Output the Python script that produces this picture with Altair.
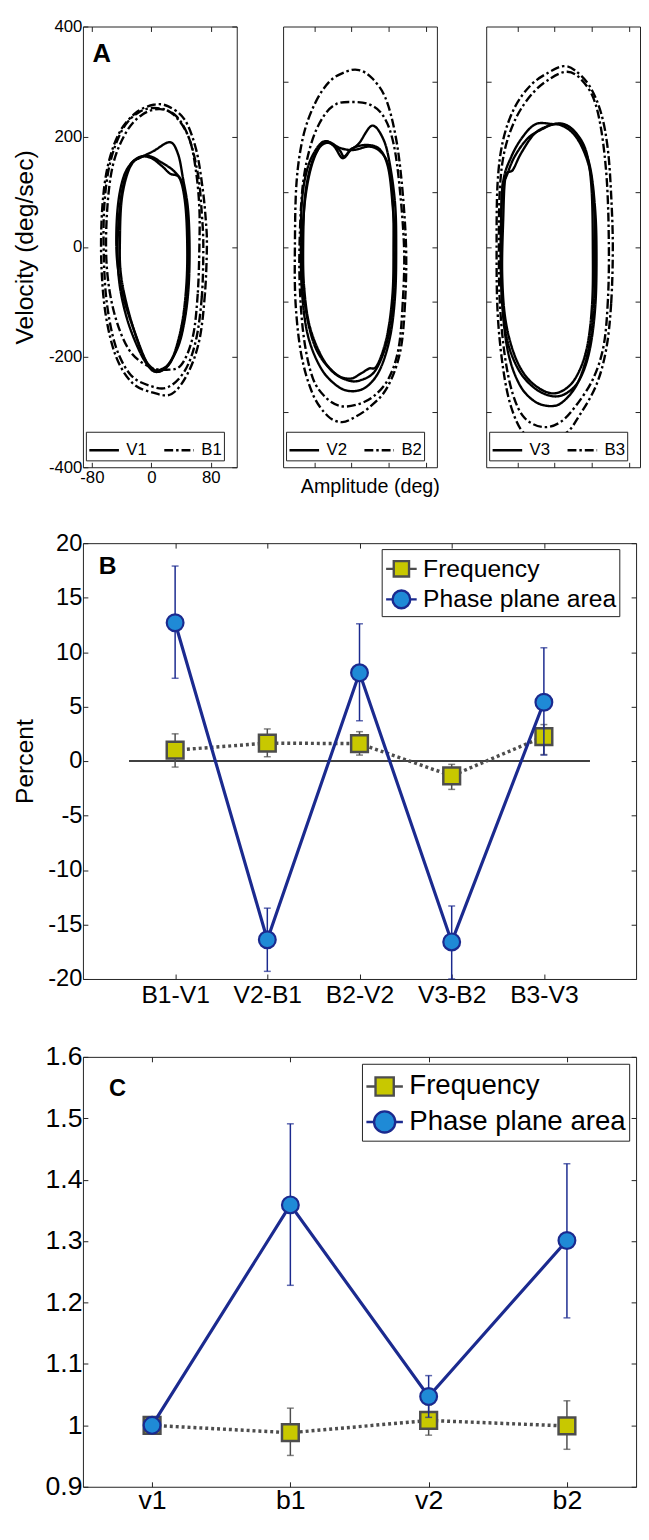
import json
import altair as alt
import pandas as pd

REG = "'Liberation Sans', Arial, Helvetica, sans-serif"

# ---------------- Panel A: phase-plane loops (amplitude deg, velocity deg/sec) ----------------
# subplot 1
v1a_x = [51.5, 50.2, 44.9, 36.1, 20.7, 7.5, -3.5, -16.7, -32.1, -42.2, -45.3, -44.0, -38.7, -27.7, -14.5, 3.1, 25.1, 36.1, 42.7, 49.3]
v1a_y = [0, -73, -133, -181, -217, -226, -217, -187, -133, -73, -14, 46, 106, 150, 162, 174, 190, 168, 124, 70]
v1b_x = [48.4, 47.0, 40.5, 27.3, 11.9, 0.9, -12.3, -29.9, -40.9, -42.2, -39.6, -29.9, -16.7, -1.3, 14.1, 25.1, 38.3, 45.8]
v1b_y = [0, -73, -145, -205, -223, -220, -193, -121, -50, 16, 88, 141, 162, 162, 147, 133, 124, 76]
v1c_x = [50.2, 48.4, 40.5, 25.1, 7.5, -5.7, -23.3, -38.7, -46.6, -45.3, -36.5, -21.1, -3.5, 14.1, 31.7, 42.7, 48.4]
v1c_y = [0, -85, -157, -211, -227, -211, -151, -85, -14, 70, 130, 159, 165, 153, 136, 112, 58]
b1a_x = [74.8, 72.2, 64.7, 49.3, 27.3, 0.9, -25.5, -47.5, -61.6, -67.3, -66.0, -58.5, -43.1, -21.1, 3.1, 22.9, 44.9, 60.3, 69.1, 73.5]
b1a_y = [0, -85, -169, -229, -267, -264, -247, -199, -121, -26, 70, 147, 207, 243, 258, 255, 231, 177, 106, 46]
b1b_x = [64.7, 62.5, 55.9, 40.5, 20.7, -3.5, -29.9, -49.7, -59.8, -59.8, -51.9, -34.3, -12.3, 11.9, 33.9, 51.5, 60.3, 64.7]
b1b_y = [0, -85, -163, -214, -223, -217, -187, -121, -38, 58, 147, 207, 240, 250, 237, 195, 136, 70]
b1c_x = [70, 68, 60, 45, 22, -2, -28, -48, -60, -64, -63, -55, -38, -16, 8, 30, 50, 63, 68]
b1c_y = [0, -90, -170, -225, -255, -252, -232, -180, -100, -10, 80, 155, 215, 245, 252, 240, 200, 130, 60]

# subplot 2
v2a_x = [60.2, 58.9, 52.2, 38.9, 21.2, 1.3, -18.6, -40.7, -58.4, -66.4, -68.1, -66.4, -58.4, -45.1, -34.1, -23.0, -11.9, -0.9, 10.2, 27.9, 43.4, 52.2, 58.9]
v2a_y = [0, -85, -162, -221, -253, -262, -253, -221, -162, -85, 0, 87, 146, 182, 192, 182, 161, 176, 188, 220, 194, 146, 75]
v2b_x = [56.6, 55.3, 47.8, 34.5, 23.5, 12.4, -0.9, -18.6, -38.5, -56.2, -63.7, -65.0, -62.8, -54.9, -42.9, -31.9, -14.2, 3.5, 23.5, 38.9, 50.0, 55.8]
v2b_y = [0, -85, -162, -215, -221, -230, -239, -233, -203, -144, -73, 0, 87, 146, 182, 191, 179, 176, 182, 173, 146, 81]
v2c_x = [58.9, 56.6, 48.7, 32.3, 12.4, -5.3, -27.4, -49.6, -62.8, -66.4, -63.7, -56.2, -45.1, -31.9, -16.4, -9.7, 1.3, 21.2, 38.9, 50.0, 55.8]
v2c_y = [0, -96, -168, -224, -242, -242, -224, -179, -102, -14, 69, 134, 176, 189, 176, 164, 179, 185, 176, 140, 69]
b2a_x = [73.5, 72.1, 65.5, 47.8, 23.5, -0.9, -14.2, -31.9, -51.8, -67.3, -75.2, -76.1, -73.9, -65.0, -49.6, -29.6, -7.5, 10.2, 27.9, 45.6, 58.9, 67.7]
b2a_y = [0, -102, -191, -256, -292, -313, -318, -307, -268, -197, -102, 0, 117, 200, 259, 300, 318, 321, 306, 271, 205, 117]
b2b_x = [70.8, 69.0, 63.3, 50.0, 30.1, 8.0, -14.2, -34.1, -51.8, -63.7, -69.5, -69.5, -65.0, -54.0, -38.5, -20.8, 1.3, 23.5, 41.2, 54.4, 63.3]
b2b_y = [0, -102, -185, -239, -271, -286, -289, -274, -239, -168, -73, 22, 117, 188, 235, 259, 263, 259, 241, 200, 128]

# subplot 3
v3a_x = [56.4, 55.1, 47.6, 34.4, 16.7, -3.1, -27.3, -49.3, -64.8, -71.4, -72.2, -69.2, -58.1, -42.7, -25.1, -3.1, 16.7, 34.4, 47.6, 54.2]
v3a_y = [0, -102, -185, -239, -265, -271, -256, -221, -162, -73, 22, 117, 164, 200, 223, 223, 220, 194, 146, 75]
v3b_x = [54.2, 53.3, 46.7, 32.2, 12.3, -5.3, -27.3, -47.1, -62.6, -70.5, -72.2, -70.5, -64.8, -53.7, -36.1, -16.3, 1.3, 21.1, 36.6, 48.5, 53.3]
v3b_y = [0, -96, -179, -244, -280, -289, -280, -250, -191, -102, 0, 105, 128, 164, 197, 214, 223, 211, 182, 134, 69]
v3c_x = [51.5, 50.6, 43.2, 27.8, 7.9, -11.9, -36.1, -53.7, -66.1, -70.5, -69.2, -66.1, -56.0, -45.0, -27.3, -7.5, 12.3, 30.0, 43.2, 49.8]
v3c_y = [0, -102, -185, -239, -263, -263, -239, -197, -132, -49, 46, 126, 140, 170, 205, 220, 223, 205, 170, 105]
b3a_x = [78.4, 76.2, 69.6, 56.4, 34.4, 14.5, -14.1, -40.5, -58.1, -69.2, -76.6, -78.0, -76.6, -69.2, -53.7, -31.7, -7.5, 12.3, 27.8, 47.6, 63.0, 71.8, 76.2]
b3a_y = [0, -102, -185, -250, -304, -339, -345, -339, -292, -221, -120, 0, 117, 194, 253, 294, 317, 328, 320, 291, 241, 176, 93]
b3b_x = [73.1, 71.8, 66.1, 52.0, 30.0, 7.9, -16.3, -40.5, -56.0, -67.0, -73.6, -74.9, -73.6, -67.0, -51.5, -29.5, -5.3, 16.7, 34.4, 52.0, 63.0, 70.5]
b3b_y = [0, -96, -179, -239, -286, -318, -327, -310, -268, -197, -102, 0, 105, 176, 235, 279, 306, 318, 306, 271, 211, 117]

A_X_DOMAIN = [-92, 115]
A_Y_DOMAIN = [-400, 400]
A1_XTICKS = [-80, 0, 80]
A1_YTICKS = [-400, -200, 0, 200, 400]
A23_XTICKS = [-50, 0, 50, 100]
A23_YTICKS = [-300, -200, -100, 0, 100, 200, 300]

# ---------------- Panel B ----------------
cats_B = ["B1-V1", "V2-B1", "B2-V2", "V3-B2", "B3-V3"]
freq_B = [1.0, 1.65, 1.6, -1.35, 2.25]
freq_B_lo = [-0.55, 0.4, 0.55, -2.6, 0.6]
freq_B_hi = [2.5, 2.95, 2.7, -0.3, 3.35]
area_B = [12.7, -16.4, 8.1, -16.6, 5.4]
area_B_lo = [7.6, -19.3, 3.7, -20.0, 0.55]
area_B_hi = [17.9, -13.5, 12.6, -13.3, 10.4]
zero_B = {"x": [0.5], "x2": [5.5], "y": [0]}
B_YTICKS = [-20, -15, -10, -5, 0, 5, 10, 15, 20]

# ---------------- Panel C ----------------
cats_C = ["v1", "b1", "v2", "b2"]
freq_C = [1.0, 0.988, 1.008, 0.999]
freq_C_lo = [1.0, 0.951, 0.984, 0.961]
freq_C_hi = [1.0, 1.028, 1.033, 1.04]
area_C = [1.0, 1.359, 1.047, 1.301]
area_C_lo = [1.0, 1.228, 1.013, 1.175]
area_C_hi = [1.0, 1.491, 1.081, 1.426]
C_YTICKS = [0.9, 1.0, 1.1, 1.2, 1.3, 1.4, 1.5, 1.6]

series_names = ["Frequency", "Phase plane area"]

YEL = "#c8c800"
GRAY = "#4d4d4d"
BLUE = "#1f8ad6"
NAVY = "#1b2a8f"
FRAME = "#222222"
SQ_PATH = "M-1,0H-0.5M0.5,0H1M-0.5,-0.5H0.5V0.5H-0.5Z"
CI_PATH = "M-1,0H-0.58M0.58,0H1M0.58,0A0.58,0.58,0,1,1,-0.58,0A0.58,0.58,0,1,1,0.58,0Z"
PLAIN = "'' + datum.value"

TICK = dict(offset=-5, tickSize=5, domain=False, grid=False, tickColor=FRAME, tickWidth=1)
SUB_W = 156
SUB_H = 447
VIEW = alt.ViewBackground(stroke=FRAME, strokeWidth=1)


def letter_layer(letter, size, px, py):
    return alt.Chart(pd.DataFrame({"t": [letter]})).mark_text(
        font=REG, fontSize=size, fontWeight="bold", color="black", align="center", baseline="middle"
    ).encode(text="t:N", x=alt.value(px), y=alt.value(py))


def loops_df(loops):
    frames = []
    for i, (xs, ys, name) in enumerate(loops):
        frames.append(pd.DataFrame({"x": xs, "y": ys, "series": name, "loop": i, "order": range(len(xs))}))
    return pd.concat(frames, ignore_index=True)


def phase_subplot(loops, names, xticks, yticks, first, xtitle=None, letter=None):
    df = loops_df(loops)
    xs = alt.Scale(domain=A_X_DOMAIN, nice=False, zero=False)
    ys = alt.Scale(domain=A_Y_DOMAIN, nice=False, zero=False)
    if xtitle:
        xb = alt.Axis(orient="bottom", values=xticks, labels=first, labelExpr=PLAIN, labelFont=REG,
                      labelFontSize=17, labelColor="black", labelPadding=2, title=xtitle, titleFont=REG,
                      titleFontSize=20, titleFontWeight="normal", titleColor="black", titlePadding=9,
                      titleX=88, **TICK)
    else:
        xb = alt.Axis(orient="bottom", values=xticks, labels=first, labelExpr=PLAIN, labelFont=REG,
                      labelFontSize=17, labelColor="black", labelPadding=2, title=None, **TICK)
    if first:
        yl = alt.Axis(orient="left", values=yticks, labels=True, labelExpr=PLAIN, labelFont=REG, labelFontSize=17,
                      labelColor="black", labelPadding=1, title="Velocity (deg/sec)", titleFont=REG,
                      titleFontSize=25, titleFontWeight="normal", titleColor="black", titlePadding=11, **TICK)
    else:
        yl = alt.Axis(orient="left", values=yticks, labels=False, title=None, **TICK)
    leg = alt.Legend(orient="none", legendX=3, legendY=SUB_H - 36, direction="horizontal", title=None,
                     symbolType="stroke", symbolSize=900, symbolStrokeWidth=2.4, symbolStrokeColor="black",
                     labelFont=REG, labelFontSize=17, labelColor="black", fillColor="white",
                     strokeColor=FRAME, padding=2, columnPadding=12, labelOffset=6, labelLimit=100)
    lines = alt.Chart(df).mark_line(interpolate="cardinal-closed", strokeWidth=2.4, color="black").encode(
        x=alt.X("x:Q", scale=xs, axis=xb),
        y=alt.Y("y:Q", scale=ys, axis=yl),
        strokeDash=alt.StrokeDash("series:N", scale=alt.Scale(domain=names, range=[[1, 0], [9, 3, 2.5, 3]]),
                                  legend=leg),
        detail="loop:N",
        order="order:Q",
    )
    mirror = alt.Chart(df).mark_point(opacity=0).encode(
        x=alt.X("x:Q", scale=xs, axis=alt.Axis(orient="top", values=xticks, labels=False, title=None, **TICK)),
        y=alt.Y("y:Q", scale=ys, axis=alt.Axis(orient="right", values=yticks, labels=False, title=None, **TICK)),
    ).transform_filter("false")
    layers = [lines, mirror]
    if letter:
        layers.append(letter_layer(letter, 26, 19, 28))
    return alt.layer(*layers).resolve_axis(x="independent", y="independent").properties(
        width=SUB_W, height=SUB_H, view=VIEW)


p1 = phase_subplot([(v1a_x, v1a_y, "V1"), (v1b_x, v1b_y, "V1"), (v1c_x, v1c_y, "V1"),
                    (b1a_x, b1a_y, "B1"), (b1b_x, b1b_y, "B1"), (b1c_x, b1c_y, "B1")],
                   ["V1", "B1"], A1_XTICKS, A1_YTICKS, True, letter="A")
p2 = phase_subplot([(v2a_x, v2a_y, "V2"), (v2b_x, v2b_y, "V2"), (v2c_x, v2c_y, "V2"),
                    (b2a_x, b2a_y, "B2"), (b2b_x, b2b_y, "B2")],
                   ["V2", "B2"], A23_XTICKS, A23_YTICKS, False, xtitle="Amplitude (deg)")
p3 = phase_subplot([(v3a_x, v3a_y, "V3"), (v3b_x, v3b_y, "V3"), (v3c_x, v3c_y, "V3"),
                    (b3a_x, b3a_y, "B3"), (b3b_x, b3b_y, "B3")],
                   ["V3", "B3"], A23_XTICKS, A23_YTICKS, False)
rowA = alt.hconcat(p1, p2, p3, spacing=45).resolve_scale(strokeDash="independent").resolve_legend(
    strokeDash="independent")


def summary_panel(cats, fr, fr_lo, fr_hi, ar, ar_lo, ar_hi, xdom, ydom, yticks, width, height, letter,
                  tick_fs, xlab_fs, xlab_pad, leg_fs, leg_sym, leg_x, leg_y, ytitle=None, zero=None):
    pos = list(range(1, len(cats) + 1))
    dfF = pd.DataFrame({"x": pos, "v": fr, "lo": fr_lo, "hi": fr_hi})
    dfA = pd.DataFrame({"x": pos, "v": ar, "lo": ar_lo, "hi": ar_hi})
    dfL = pd.DataFrame({"x": [pos[0], pos[0]], "v": [ar[0], ar[0]], "series": series_names})
    xs = alt.Scale(domain=xdom, nice=False, zero=False)
    ys = alt.Scale(domain=ydom, nice=False, zero=False)
    label_expr = json.dumps(cats) + "[datum.value - 1]"
    xb = alt.Axis(orient="bottom", values=pos, labelExpr=label_expr, labelFont=REG, labelFontSize=xlab_fs,
                  labelColor="black", labelPadding=xlab_pad, title=None, **TICK)
    yargs = dict(orient="left", values=yticks, labelExpr=PLAIN, labelFont=REG, labelFontSize=tick_fs,
                 labelColor="black", labelPadding=1, **TICK)
    if ytitle:
        yl = alt.Axis(title=ytitle, titleFont=REG, titleFontSize=25, titleFontWeight="normal",
                      titleColor="black", titlePadding=10, **yargs)
    else:
        yl = alt.Axis(title=None, **yargs)
    noax_x = alt.X("x:Q", scale=xs, axis=None)

    layers = []
    if zero is not None:
        layers.append(alt.Chart(pd.DataFrame(zero)).mark_rule(color="black", strokeWidth=1.5).encode(
            x=alt.X("x:Q", scale=xs, axis=xb), x2="x2:Q", y=alt.Y("y:Q", scale=ys, axis=yl)))
        first_x = noax_x
        first_y = alt.Y("v:Q", scale=ys, axis=None)
    else:
        first_x = alt.X("x:Q", scale=xs, axis=xb)
        first_y = alt.Y("v:Q", scale=ys, axis=yl)
    noax_y = alt.Y("v:Q", scale=ys, axis=None)

    layers.append(alt.Chart(dfF).mark_line(color=GRAY, strokeWidth=3.5, strokeDash=[3, 3]).encode(
        x=first_x, y=first_y))
    layers.append(alt.Chart(dfF).mark_errorbar(ticks=True, color=GRAY, thickness=1.5, size=7).encode(
        x=noax_x, y=alt.Y("lo:Q", scale=ys, axis=None), y2="hi:Q"))
    layers.append(alt.Chart(dfF).mark_square(size=289, fill=YEL, stroke=GRAY, strokeWidth=2.5, opacity=1).encode(
        x=noax_x, y=noax_y))
    layers.append(alt.Chart(dfA).mark_line(color=NAVY, strokeWidth=3.2).encode(x=noax_x, y=noax_y))
    layers.append(alt.Chart(dfA).mark_errorbar(ticks=True, color=NAVY, thickness=1.5, size=7).encode(
        x=noax_x, y=alt.Y("lo:Q", scale=ys, axis=None), y2="hi:Q"))
    layers.append(alt.Chart(dfA).mark_circle(size=290, fill=BLUE, stroke=NAVY, strokeWidth=2.2, opacity=1).encode(
        x=noax_x, y=noax_y))

    leg = alt.Legend(orient="none", legendX=leg_x, legendY=leg_y, title=None, labelFont=REG, labelFontSize=leg_fs,
                     labelColor="black", fillColor="white", strokeColor=FRAME, padding=3, rowPadding=1,
                     symbolSize=leg_sym * leg_sym, symbolStrokeWidth=2.4, labelOffset=5, labelLimit=400)
    layers.append(alt.Chart(dfL).mark_point(filled=True, strokeWidth=2.4, size=leg_sym * leg_sym, opacity=1).encode(
        x=alt.X("x:Q", scale=xs, axis=alt.Axis(orient="top", values=pos, labels=False, title=None, **TICK)),
        y=alt.Y("v:Q", scale=ys, axis=alt.Axis(orient="right", values=yticks, labels=False, title=None, **TICK)),
        shape=alt.Shape("series:N", scale=alt.Scale(domain=series_names, range=[SQ_PATH, CI_PATH]), legend=leg),
        fill=alt.Fill("series:N", scale=alt.Scale(domain=series_names, range=[YEL, BLUE]), legend=leg),
        stroke=alt.Stroke("series:N", scale=alt.Scale(domain=series_names, range=[GRAY, NAVY]), legend=leg),
    ).transform_filter("false"))
    layers.append(letter)

    return alt.layer(*layers).resolve_axis(x="independent", y="independent").properties(
        width=width, height=height, view=VIEW)


chartB = summary_panel(cats_B, freq_B, freq_B_lo, freq_B_hi, area_B, area_B_lo, area_B_hi,
                       [0, 6], [-20, 20], B_YTICKS, 561, 442, letter_layer("B", 25, 25, 23),
                       24, 25, 4, 25, 31, 303, 6, ytitle="Percent", zero=zero_B)

chartC = summary_panel(cats_C, freq_C, freq_C_lo, freq_C_hi, area_C, area_C_lo, area_C_hi,
                       [0.5, 4.5], [0.9, 1.6], C_YTICKS, 561, 436, letter_layer("C", 24, 35, 33),
                       27, 27, 1, 28, 37, 283, 7)

chart = alt.concat(rowA, chartB, chartC, columns=1, spacing=34).resolve_scale(
    shape="independent", fill="independent", stroke="independent", strokeDash="independent"
).resolve_legend(
    shape="independent", fill="independent", stroke="independent", strokeDash="independent"
).properties(
    padding={"left": 4, "top": -2, "right": 0, "bottom": 0}
).configure_view(stroke=FRAME, strokeWidth=1).configure(background="white")

chart.save("out.html", embed_options={"renderer": "svg", "actions": False})
